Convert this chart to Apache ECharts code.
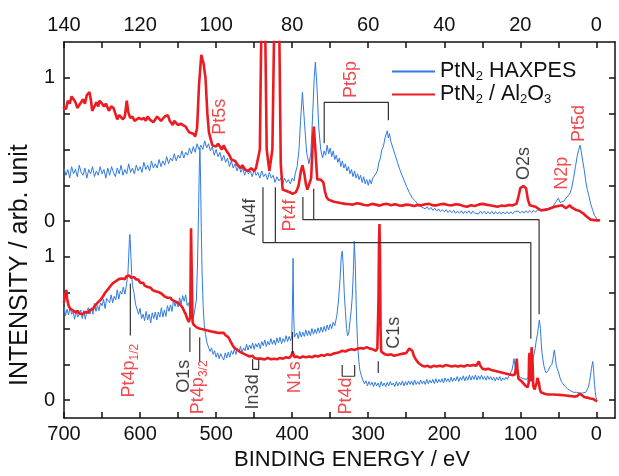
<!DOCTYPE html>
<html>
<head>
<meta charset="utf-8">
<script src="https://cdn.jsdelivr.net/npm/echarts@6/dist/echarts.min.js"></script>
<style>html,body{margin:0;padding:0;background:#fff}#c{width:619px;height:476px}</style>
</head>
<body>
<div id="c"></div>
<script>
// ---------- DATA ----------
const bottomTickVals = [0,50,100,150,200,250,300,350,400,450,500,550,600,650,700];
const bottomLabelVals = [0,100,200,300,400,500,600,700];
const topTickVals = [0,10,20,30,40,50,60,70,80,90,100,110,120,130,140];
const topLabelVals = [0,20,40,60,80,100,120,140];
const yTickVals = [0,0.25,0.5,0.75,1,1.25,1.5,1.75,2,2.25];
const yLabelVals = [0,1,1.25,2.25];
const yLabelText = ['0','1','0','1'];
const upperOffset = 1.25;

const seriesNames = ['PtN2 HAXPES','PtN2 / Al2O3'];

// upper panel, blue (top-axis energy, intensity 0..1)
const upperBlue = [[140,.37],[139.5,.32],[139,.36],[138.5,.30],[138,.38],[137.5,.33],[137,.36],[136.5,.31],[136,.39],[135.5,.34],[135,.32],[134.5,.37],[134,.30],[133.5,.36],[133,.33],[132.5,.38],[132,.31],[131.5,.35],[131,.32],[130.5,.38],[130,.33],[129.5,.36],[129,.30],[128.5,.37],[128,.32],[127.5,.38],[127,.34],[126.5,.31],[126,.37],[125.5,.33],[125,.39],[124.5,.32],[124,.36],[123.5,.33],[123,.40],[122.5,.34],[122,.37],[121.5,.33],[121,.39],[120.5,.35],[120,.38],[119.5,.34],[119,.41],[118.5,.36],[118,.39],[117.5,.35],[117,.42],[116.5,.37],[116,.40],[115.5,.37],[115,.43],[114.5,.38],[114,.42],[113.5,.39],[113,.45],[112.5,.40],[112,.44],[111.5,.42],[111,.47],[110.5,.42],[110,.46],[109.5,.44],[109,.49],[108.5,.44],[108,.48],[107.5,.46],[107,.51],[106.5,.47],[106,.52],[105.5,.48],[105,.54],[104.5,.50],[104,.53],[103.5,.50],[103,.56],[102.5,.51],[102,.54],[101.5,.49],[101,.52],[100.5,.46],[100,.50],[99.5,.45],[99,.48],[98.5,.42],[98,.46],[97.5,.41],[97,.44],[96.5,.38],[96,.42],[95.5,.37],[95,.40],[94.5,.35],[94,.39],[93.5,.34],[93,.37],[92.5,.32],[92,.36],[91.5,.33],[91,.35],[90.5,.31],[90,.36],[89.5,.32],[89,.34],[88.5,.30],[88,.35],[87.5,.31],[87,.33],[86.5,.29],[86,.34],[85.5,.30],[85,.32],[84.5,.27],[84,.31],[83.5,.28],[83,.30],[82.5,.26],[82,.30],[81.5,.27],[81,.29],[80.5,.26],[80,.30],[79.5,.28],[79.2,.33],[78.7,.38],[78.2,.50],[77.8,.70],[77.3,.90],[76.8,.70],[76.2,.48],[75.6,.40],[75.1,.47],[74.6,.75],[74.2,1.0],[73.9,1.11],[73.5,.95],[73,.65],[72.5,.50],[72,.44],[71.6,.49],[71.2,.46],[70.8,.53],[70.4,.47],[70,.51],[69.6,.45],[69.2,.49],[68.8,.43],[68.4,.46],[68,.41],[67.6,.44],[67.2,.38],[66.8,.42],[66.4,.37],[66,.40],[65.6,.35],[65.2,.38],[64.8,.33],[64.4,.36],[64,.31],[63.6,.35],[63.2,.30],[62.8,.33],[62.4,.29],[62,.32],[61.6,.27],[61.2,.31],[60.8,.26],[60.4,.29],[60,.25],[59.6,.29],[59.2,.26],[58.8,.30],[58.4,.29],[58,.33],[57.6,.35],[57.2,.41],[56.8,.44],[56.4,.50],[56,.52],[55.6,.58],[55.2,.59],[55,.63],[54.7,.58],[54.4,.61],[54.1,.56],[53.8,.57],[53.5,.51],[53.2,.52],[52.9,.46],[52.6,.46],[52.3,.41],[52,.42],[51.7,.36],[51.4,.37],[51.1,.32],[50.8,.32],[50.5,.28],[50.2,.28],[49.9,.24],[49.6,.24],[49.2,.20],[48.8,.20],[48.4,.16],[48,.17],[47.6,.14],[47.2,.14],[46.8,.11],[46.4,.12],[46,.10],[45.5,.11],[45,.085],[44.5,.10],[44,.08],[43.5,.095],[43,.075],[42.5,.09],[42,.07],[41.5,.085],[41,.065],[40.5,.08],[40,.065],[39.5,.08],[39,.06],[38.5,.075],[38,.058],[37.5,.075],[37,.055],[36.5,.07],[36,.055],[35.5,.072],[35,.052],[34.5,.07],[34,.055],[33.5,.072],[33,.05],[32.5,.07],[32,.055],[31.5,.068],[31,.05],[30.5,.07],[30,.052],[29.5,.068],[29,.05],[28.5,.066],[28,.05],[27.5,.068],[27,.048],[26.5,.066],[26,.05],[25.5,.065],[25,.048],[24.5,.064],[24,.05],[23.5,.066],[23,.05],[22.5,.065],[22,.05],[21.5,.068],[21,.055],[20.5,.07],[20,.055],[19.5,.07],[19,.056],[18.5,.072],[18,.058],[17.5,.074],[17,.06],[16.5,.076],[16,.062],[15.5,.078],[15,.065],[14.5,.08],[14,.07],[13.5,.085],[13,.075],[12.5,.09],[12,.085],[11.5,.10],[11,.10],[10.5,.14],[10,.16],[9.5,.13],[9,.12],[8.5,.14],[8,.16],[7.5,.15],[7,.19],[6.5,.23],[6,.30],[5.5,.38],[5,.46],[4.6,.50],[4.3,.53],[4,.49],[3.6,.42],[3.2,.36],[2.8,.28],[2.4,.22],[2,.18],[1.5,.12],[1,.08],[0.5,.04],[0,.02],[-0.3,.01]];

// upper panel, red
const upperRed = [[140.2,.80],[139.5,.78],[139,.84],[138.5,.82],[138,.87],[137.5,.85],[137,.83],[136.5,.79],[136,.80],[135.5,.83],[135,.85],[134.5,.82],[134,.88],[133.3,.90],[132.9,.84],[132.6,.77],[132,.80],[131.5,.83],[131,.80],[130.7,.84],[130,.82],[129.5,.80],[129,.82],[128.2,.77],[127.6,.80],[127,.79],[126.5,.75],[126,.71],[125.5,.74],[125,.74],[124.5,.71],[124,.73],[123.5,.84],[123.1,.76],[122.6,.72],[122,.73],[121.5,.70],[121,.70],[120.3,.72],[119.6,.71],[119,.72],[118.5,.70],[118,.73],[117.5,.71],[117,.72],[116.5,.69],[116,.70],[115.5,.73],[115,.72],[114.5,.70],[114,.71],[113.5,.73],[113,.72],[112.7,.74],[112.2,.70],[111.8,.69],[111.4,.67],[111,.70],[110.5,.69],[110,.67],[109.3,.68],[108.7,.67],[108,.66],[107.6,.64],[107.1,.62],[106.6,.63],[106,.61],[105.5,.59],[105,.65],[104.5,.95],[103.9,1.16],[103.3,1.10],[102.8,1.0],[102.3,.75],[101.9,.62],[101.4,.57],[101,.53],[100.5,.54],[100,.52],[99.5,.54],[99,.52],[98.5,.50],[98,.53],[97.5,.50],[97,.49],[96.5,.46],[96,.43],[95.5,.44],[95,.42],[94.6,.41],[94.3,.39],[93.9,.38],[93.5,.37],[93.1,.39],[92.8,.38],[92.4,.36],[92,.36],[91.6,.35],[91.2,.35],[90.8,.37],[90.5,.36],[90,.35],[89.5,.37],[89,.36],[88.5,.5],[88.0,1.6],[87.7,1.7],[87.2,1.6],[86.7,.5],[86,.35],[85.2,.5],[84.6,1.6],[84.0,1.8],[83.5,1.6],[83,.4],[82.5,.22],[82,.215],[81.5,.21],[81,.20],[80.5,.20],[80.2,.195],[79.9,.19],[79.5,.20],[79.1,.20],[78.7,.22],[78.3,.25],[77.7,.35],[77.3,.39],[76.8,.33],[76.4,.26],[76,.22],[75.5,.21],[75,.30],[74.6,.55],[74.3,.66],[73.9,.5],[73.4,.29],[73,.28],[72.5,.29],[71.8,.27],[71.4,.21],[71,.17],[70.5,.15],[70,.14],[69,.135],[68,.13],[67,.125],[66,.12],[65,.118],[64,.115],[63,.125],[62,.12],[61,.112],[60,.11],[59,.12],[58,.115],[57,.108],[56,.118],[55,.12],[54,.11],[53,.118],[52,.11],[51,.108],[50,.115],[49,.112],[48,.105],[47,.113],[46,.11],[45,.117],[44,.12],[43,.11],[42,.11],[41,.118],[40,.12],[39,.112],[38,.11],[37,.118],[36,.115],[35,.105],[34,.10],[33,.11],[32,.105],[31,.115],[30,.12],[29,.115],[28,.11],[27,.105],[26,.10],[25,.108],[24,.105],[23,.112],[22,.11],[21,.12],[20.5,.17],[20,.23],[19.2,.245],[18.5,.23],[18,.15],[17.5,.11],[17,.105],[16,.10],[15.2,.085],[14.5,.075],[13.7,.078],[13,.08],[12,.09],[11,.10],[10,.105],[9,.11],[8.5,.10],[8,.09],[7.5,.10],[7,.11],[6.5,.095],[6,.085],[5.5,.08],[5,.075],[4.5,.072],[4,.07],[3.3,.05],[2.5,.03],[1.5,.01],[0,.005],[-1,.006]];

// lower panel, blue (binding energy eV)
const lowerBlue = [[700,.65],[698,.59],[696,.635],[694,.595],[692,.65],[690,.60],[688,.615],[686,.565],[684,.63],[682,.58],[680,.60],[678,.63],[676,.57],[674,.625],[672,.565],[670,.62],[668,.645],[666,.60],[664,.645],[662,.60],[660,.675],[658,.62],[656,.66],[654,.625],[652,.68],[650,.66],[648,.705],[646,.64],[644,.71],[642,.695],[640,.68],[638,.735],[636,.68],[634,.725],[632,.70],[630,.77],[628,.705],[626,.76],[624,.74],[622,.79],[620,.74],[618,.80],[617,.80],[616,.88],[615,1.0],[614,1.12],[613.5,1.157],[613,1.12],[612,1.0],[611,.88],[610,.80],[608,.75],[606,.67],[604,.68],[602,.60],[600,.64],[598,.57],[596,.60],[594,.555],[592,.62],[590,.56],[588,.60],[586,.54],[584,.61],[582,.57],[580,.615],[578,.56],[576,.615],[574,.58],[572,.645],[570,.58],[568,.63],[566,.585],[564,.66],[562,.62],[560,.665],[558,.62],[556,.70],[554,.655],[552,.69],[550,.65],[548,.715],[546,.67],[544,.73],[542,.69],[540,.735],[538,.66],[536,.68],[534,.60],[532,.63],[530,.57],[528,.63],[526,.70],[524.5,.95],[523,1.35],[522,1.65],[521.3,1.76],[520.5,1.55],[519.5,1.2],[518.5,.9],[517,.65],[515.5,.52],[514,.46],[512,.40],[510,.37],[508,.34],[506,.365],[504,.32],[502,.345],[500,.30],[498,.33],[496,.29],[494,.325],[492,.30],[490,.28],[488,.33],[486,.295],[484,.335],[482,.30],[480,.345],[478,.32],[476,.355],[474,.32],[472,.36],[470,.335],[468,.375],[466,.33],[464,.365],[462,.345],[460,.39],[458,.35],[456,.385],[454,.36],[452,.40],[450,.355],[448,.395],[446,.37],[444,.40],[442,.36],[440,.41],[438,.38],[436,.42],[434,.375],[432,.41],[430,.385],[428,.43],[426,.39],[424,.42],[422,.385],[420,.435],[418,.40],[416,.44],[414,.395],[412,.43],[410,.405],[408,.45],[406,.41],[404,.445],[402,.415],[400.5,.45],[399.5,.7],[398.8,.99],[398,.6],[397,.44],[396,.44],[394,.47],[392,.43],[390,.48],[388,.44],[386,.475],[384,.445],[382,.49],[380,.45],[378,.485],[376,.45],[374,.50],[372,.46],[370,.495],[368,.465],[366,.505],[364,.47],[362,.51],[360,.475],[358,.515],[356,.48],[354,.525],[352,.49],[350,.53],[348,.50],[346,.545],[344,.52],[342,.57],[341,.60],[339,.70],[337,.85],[335.5,1.0],[334.2,1.04],[333,.95],[331.5,.75],[330,.62],[328.5,.50],[327,.45],[325.5,.47],[324,.55],[322.5,.62],[321,.72],[319.5,.9],[318.3,1.11],[317,.95],[315.5,.6],[314,.40],[312.5,.28],[311,.21],[309,.17],[307,.14],[305,.115],[303,.135],[301,.10],[299,.13],[297,.105],[295,.125],[293,.095],[291,.125],[289,.10],[287,.12],[285,.09],[283,.13],[281,.10],[279,.12],[277,.095],[275,.125],[273,.10],[271,.13],[269,.105],[267,.12],[265,.095],[263,.13],[261,.10],[259,.125],[257,.105],[255,.135],[253,.10],[251,.13],[249,.105],[247,.135],[245,.11],[243,.135],[241,.105],[239,.14],[237,.11],[235,.13],[233,.11],[231,.14],[229,.115],[227,.135],[225,.11],[223,.145],[221,.115],[219,.14],[217,.12],[215,.145],[213,.115],[211,.15],[209,.12],[207,.145],[205,.125],[203,.15],[201,.12],[199,.155],[197,.13],[195,.15],[193,.125],[191,.16],[189,.13],[187,.155],[185,.135],[183,.165],[181,.13],[179,.16],[177,.14],[175,.17],[173,.135],[171,.165],[169,.14],[167,.175],[165,.14],[163,.17],[161,.145],[159,.175],[157,.14],[155,.17],[153,.145],[151,.175],[149,.145],[147,.165],[145,.14],[143,.17],[141,.145],[139,.165],[137,.14],[135,.16],[133,.135],[131,.16],[129,.14],[127,.165],[125,.135],[123,.155],[121,.14],[119,.16],[117,.145],[115,.17],[113,.18],[111,.21],[109.5,.25],[108.3,.29],[107,.24],[105.5,.20],[104,.18],[102,.17],[100,.16],[98,.17],[96,.15],[94,.16],[92,.145],[90,.15],[88,.17],[86,.21],[84,.27],[82,.32],[80.5,.36],[79,.42],[77.5,.46],[76,.52],[75,.56],[74.3,.565],[73.5,.50],[72.5,.40],[71.5,.33],[70.2,.28],[69,.24],[67.5,.21],[66,.19],[64.5,.20],[63,.21],[61.5,.23],[60,.22],[58.5,.25],[57,.29],[56,.33],[55.2,.35],[54.2,.31],[53,.25],[51.5,.22],[50,.20],[48,.16],[46,.13],[44,.115],[42,.10],[40,.09],[38,.08],[36,.075],[34,.065],[32,.06],[30,.055],[28,.05],[26,.055],[24,.05],[22,.05],[20,.045],[18,.05],[16,.05],[14,.055],[12,.06],[10.5,.09],[9,.13],[7.8,.17],[6.5,.22],[5.5,.25],[4.8,.27],[4,.24],[3.2,.17],[2.4,.11],[1.5,.06],[0.5,.02],[-0.5,.005]];

// lower panel, red
const lowerRed = [[700,.68],[699,.75],[698,.73],[697,.77],[696,.71],[694,.66],[692,.64],[690,.645],[688,.625],[686,.63],[684,.61],[682,.625],[680,.605],[678,.615],[676,.60],[674,.61],[672,.615],[670,.62],[668,.61],[666,.63],[664,.64],[662,.635],[660,.655],[658,.66],[656,.68],[654,.69],[652,.70],[650,.715],[648,.73],[646,.75],[644,.76],[642,.775],[640,.79],[638,.80],[636,.815],[634,.81],[632,.83],[630,.825],[628,.845],[626,.835],[624,.85],[622,.86],[620,.845],[618,.865],[616,.855],[614,.87],[612,.855],[610,.845],[608,.86],[606,.845],[604,.835],[602,.84],[600,.82],[598,.815],[596,.82],[594,.80],[592,.795],[590,.79],[588,.78],[586,.785],[584,.77],[582,.775],[580,.76],[578,.765],[576,.755],[574,.76],[572,.745],[570,.735],[568,.725],[566,.73],[564,.715],[562,.71],[560,.715],[558,.70],[556,.705],[554,.69],[552,.685],[550,.68],[548,.67],[546,.66],[544,.645],[542,.62],[540,.60],[538,.57],[536,.545],[535,.54],[534,.58],[533.5,.9],[533,1.2],[532.3,1.2],[531.8,.8],[531,.55],[530,.53],[528,.52],[526,.51],[524,.515],[522,.50],[520,.505],[518,.495],[516,.50],[514,.49],[512,.495],[510,.485],[508,.49],[506,.48],[504,.485],[502,.475],[500,.48],[498,.47],[496,.475],[494,.47],[492,.465],[490,.47],[488,.455],[486,.45],[484,.44],[482,.42],[480,.40],[478,.38],[476,.365],[474,.355],[472,.35],[470,.34],[468,.335],[466,.33],[464,.325],[462,.32],[460,.315],[458,.31],[456,.305],[454,.30],[452,.31],[450,.295],[448,.305],[446,.29],[444,.30],[442,.29],[440,.295],[436,.285],[432,.295],[428,.285],[424,.29],[420,.285],[416,.295],[412,.29],[408,.30],[404,.295],[401,.31],[399.5,.34],[398.5,.33],[397,.30],[394,.305],[390,.295],[386,.305],[382,.30],[378,.305],[374,.30],[370,.31],[366,.305],[362,.315],[358,.31],[354,.32],[350,.315],[346,.325],[342,.33],[338,.335],[334,.345],[330,.34],[326,.35],[322,.355],[318,.35],[314,.36],[310,.365],[306,.36],[302,.37],[298,.36],[294,.355],[290,.345],[288,.36],[286.5,.7],[285.8,1.1],[285.2,1.23],[284.5,1.0],[283.8,.5],[283,.34],[281,.33],[278,.32],[274,.315],[270,.32],[266,.31],[262,.315],[258,.32],[254,.325],[250,.33],[248,.345],[246,.36],[244,.365],[242,.345],[240,.31],[238,.29],[236,.28],[234,.26],[232,.25],[229,.24],[226,.235],[222,.24],[218,.23],[214,.24],[210,.235],[206,.24],[202,.235],[198,.245],[194,.24],[190,.235],[186,.24],[182,.235],[178,.24],[174,.235],[170,.245],[166,.24],[162,.245],[158,.24],[156,.25],[154.5,.27],[153,.245],[150,.22],[146,.215],[142,.22],[138,.21],[134,.205],[130,.20],[126,.195],[122,.19],[118,.185],[114,.18],[110,.175],[107,.18],[105.5,.24],[104.7,.29],[103.8,.22],[102.5,.15],[100,.14],[98,.13],[96,.12],[94,.105],[92,.095],[90.5,.09],[89,.12],[88.5,.30],[87.8,.33],[87,.31],[86.3,.13],[85.8,.2],[85.2,.37],[84.5,.38],[83.8,.25],[83,.10],[81.5,.075],[80,.08],[78.5,.12],[77.5,.155],[76.5,.155],[75.5,.12],[74.5,.08],[73,.055],[71,.045],[68,.045],[64,.04],[60,.04],[56,.04],[52,.038],[48,.037],[44,.035],[40,.033],[36,.03],[32,.028],[28,.025],[25,.03],[22,.045],[20.5,.05],[19,.035],[16,.022],[12,.018],[8,.012],[4,.008],[0,-0.005],[-1,-0.008]];

// peak labels: [text, energy (eV, bottom axis), y, colour key]
const peakLabels = [
  ['Pt5s', 494.4, 1.979, 'r'],
  ['Pt5p', 322.1, 2.238, 'r'],
  ['Au4f', 455.0, 1.279, 'k'],
  ['Pt4f', 401.8, 1.289, 'r'],
  ['O2s', 95.0, 1.652, 'k'],
  ['N2p', 44.3, 1.584, 'r'],
  ['Pt5d', 21.7, 1.931, 'r'],
  ['Pt4p1/2', 612.8, 0.206, 'r'],
  ['O1s', 541.3, 0.167, 'k'],
  ['Pt4p3/2', 522.4, 0.09, 'r'],
  ['In3d', 450.3, 0.058, 'k'],
  ['N1s', 395.3, 0.16, 'r'],
  ['Pt4d', 328.0, 0.030, 'r'],
  ['C1s', 266.0, 0.47, 'k']
];
// marker lines (polylines in eV / y)
const markerLines = [
  [[357.9,1.794],[357.9,2.079],[273.5,2.079],[273.5,1.954]],
  [[438.4,1.486],[438.4,1.10],[86.2,1.10],[86.2,0.428]],
  [[422.1,1.486],[422.1,1.10]],
  [[385.9,1.419],[385.9,1.26],[75.3,1.26],[75.3,0.599]],
  [[371.7,1.475],[371.7,1.26]],
  [[612.8,0.815],[612.8,0.451]],
  [[534.5,0.508],[534.5,0.337]],
  [[521.6,0.44],[521.6,0.269]],
  [[452.0,0.285],[452.0,0.215],[444.0,0.215],[444.0,0.285]],
  [[399.6,0.476],[399.6,0.326]],
  [[334.2,0.246],[334.2,0.167],[317.8,0.167],[317.8,0.246]],
  [[286.8,0.271],[286.8,0.189]]
];

// ---------- CHART ----------
const BLUE = '#2f7be2', RED = '#ec1b22', INK = '#111', LINE = '#333';
const FONT = '"Liberation Sans", Arial, Helvetica, sans-serif';
const chart = echarts.init(document.getElementById('c'), null, {renderer: 'canvas'});

function richName(n) {
  if (n === seriesNames[0]) return '{m|PtN}{s|2}{m| HAXPES}';
  return '{m|PtN}{s|2}{m| / Al}{s|2}{m|O}{s|3}';
}
function richLabel(t) {
  if (t === 'Pt4p1/2') return '{m|Pt4p}{s|1/2}';
  if (t === 'Pt4p3/2') return '{m|Pt4p}{s|3/2}';
  return '{m|' + t + '}';
}
const labelRich = (col) => ({
  m: {fontSize: 18, color: col, fontFamily: FONT, verticalAlign: 'top', lineHeight: 19},
  s: {fontSize: 12, color: col, fontFamily: FONT, verticalAlign: 'top', padding: [9, 0, 0, 0]}
});

const series = [
  {name: seriesNames[0], type: 'line', xAxisIndex: 1, yAxisIndex: 0, showSymbol: false, symbol: 'none',
   lineStyle: {color: BLUE, width: 1}, itemStyle: {color: BLUE}, z: 2, animation: false,
   data: upperBlue.map(p => [p[0], p[1] + upperOffset])},
  {name: seriesNames[0], type: 'line', xAxisIndex: 0, yAxisIndex: 0, showSymbol: false, symbol: 'none',
   lineStyle: {color: BLUE, width: 1}, itemStyle: {color: BLUE}, z: 2, animation: false,
   data: lowerBlue},
  {name: seriesNames[1], type: 'line', xAxisIndex: 1, yAxisIndex: 0, showSymbol: false, symbol: 'none',
   lineStyle: {color: RED, width: 2.6}, itemStyle: {color: RED}, z: 3, animation: false,
   data: upperRed.map(p => [p[0], p[1] + upperOffset])},
  {name: seriesNames[1], type: 'line', xAxisIndex: 0, yAxisIndex: 0, showSymbol: false, symbol: 'none',
   lineStyle: {color: RED, width: 2.6}, itemStyle: {color: RED}, z: 3, animation: false,
   data: lowerRed}
];
markerLines.forEach(pl => series.push({
  type: 'line', xAxisIndex: 0, yAxisIndex: 0, symbol: 'none', silent: true, animation: false, z: 4,
  lineStyle: {color: LINE, width: 1.2}, data: pl
}));
series.push({
  type: 'scatter', xAxisIndex: 0, yAxisIndex: 0, symbolSize: 0, silent: true, animation: false, z: 5,
  data: peakLabels.map(l => {
    const col = l[3] === 'r' ? RED : INK;
    return {value: [l[1], l[2]], label: {show: true, position: 'inside', rotate: 90,
      formatter: richLabel(l[0]), rich: labelRich(col)}};
  })
});

const option = {
  backgroundColor: '#fff',
  animation: false,
  textStyle: {fontFamily: FONT},
  grid: {left: 54, right: 4, top: 42, bottom: 50, containLabel: false},
  legend: {
    data: seriesNames, orient: 'vertical', left: 392, top: 60, padding: 0, itemGap: 0,
    itemWidth: 43, itemHeight: 2, icon: 'rect', selectedMode: false,
    formatter: richName,
    textStyle: {rich: {
      m: {fontSize: 21.5, color: INK, fontFamily: FONT, verticalAlign: 'top', lineHeight: 22},
      s: {fontSize: 13, color: INK, fontFamily: FONT, verticalAlign: 'top', padding: [10, 0, 0, 0]}
    }}
  },
  xAxis: [
    {type: 'value', position: 'bottom', inverse: true, min: -24.5, max: 700,
     splitLine: {show: false},
     axisLine: {show: true, onZero: false, lineStyle: {color: INK, width: 1.5}},
     axisTick: {show: true, inside: true, length: 6, customValues: bottomTickVals, lineStyle: {color: INK, width: 1.5}},
     axisLabel: {show: true, customValues: bottomLabelVals, fontSize: 20, color: INK, margin: 6, fontFamily: FONT},
     name: 'BINDING ENERGY / eV', nameLocation: 'middle', nameGap: 30,
     nameTextStyle: {fontSize: 22, color: INK, fontFamily: FONT, padding: [0, 0, 0, 25]}},
    {type: 'value', position: 'top', inverse: true, min: -4.9, max: 140,
     splitLine: {show: false},
     axisLine: {show: true, onZero: false, lineStyle: {color: INK, width: 1.5}},
     axisTick: {show: true, inside: true, length: 6, customValues: topTickVals, lineStyle: {color: INK, width: 1.5}},
     axisLabel: {show: true, customValues: topLabelVals, fontSize: 20, color: INK, margin: 7, fontFamily: FONT}}
  ],
  yAxis: [
    {type: 'value', position: 'left', min: -0.125, max: 2.5,
     splitLine: {show: false},
     axisLine: {show: true, onZero: false, lineStyle: {color: INK, width: 1.5}},
     axisTick: {show: true, inside: true, length: 6, customValues: yTickVals, lineStyle: {color: INK, width: 1.5}},
     axisLabel: {show: true, customValues: yLabelVals, fontSize: 20, color: INK, margin: 9, fontFamily: FONT,
       formatter: v => { const i = yLabelVals.findIndex(x => Math.abs(x - v) < 1e-6); return i >= 0 ? yLabelText[i] : ''; }},
     name: 'INTENSITY / arb. unit', nameLocation: 'middle', nameGap: 20, nameRotate: 90,
     nameTextStyle: {fontSize: 25, color: INK, fontFamily: FONT, padding: [0, 70, 0, 0]}},
    {type: 'value', position: 'right', min: -0.125, max: 2.5,
     splitLine: {show: false},
     axisLine: {show: true, onZero: false, lineStyle: {color: INK, width: 1.5}},
     axisTick: {show: true, inside: true, length: 6, customValues: yTickVals, lineStyle: {color: INK, width: 1.5}},
     axisLabel: {show: false}}
  ],
  series: series
};
chart.setOption(option);
</script>
</body>
</html>
